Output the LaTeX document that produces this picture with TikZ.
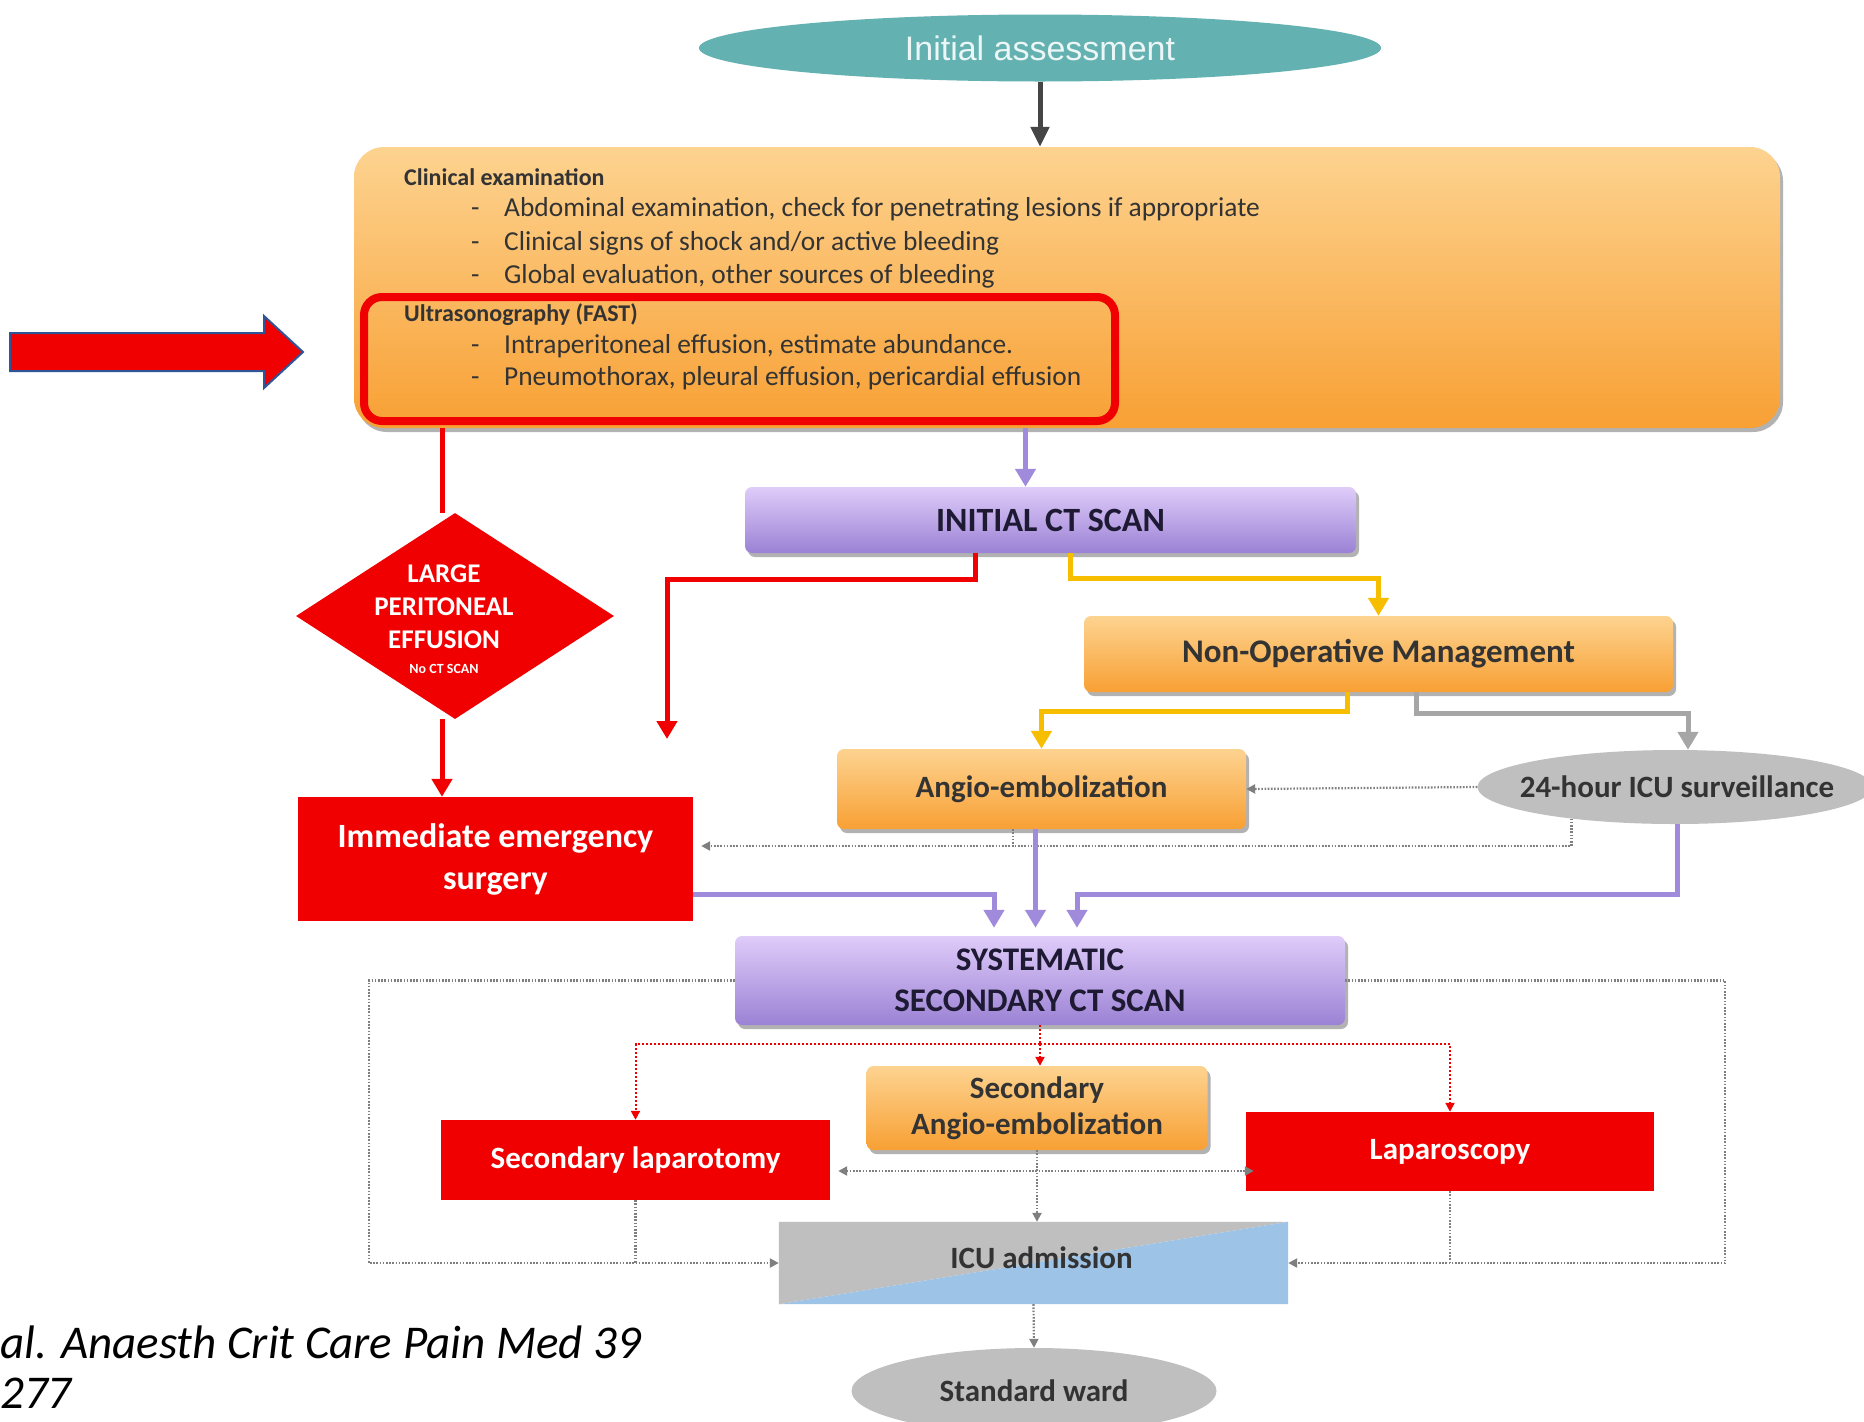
\documentclass[tikz,border=0pt]{standalone}
\usepackage{fontspec}
\setmainfont{Carlito}
\newfontfamily\arialf{Liberation Sans}
\usetikzlibrary{shapes.geometric,arrows.meta,shadows,calc,backgrounds}

\definecolor{tealA}{HTML}{63B2B1}
\definecolor{orTop}{HTML}{FDD390}
\definecolor{orBot}{HTML}{F8A034}
\definecolor{puTop}{HTML}{DFCCF9}
\definecolor{puBot}{HTML}{9B82D5}
\definecolor{redA}{HTML}{F00000}
\definecolor{puLine}{HTML}{A08ADC}
\definecolor{yeLine}{HTML}{F7BE00}
\definecolor{grLine}{HTML}{A6A6A6}
\definecolor{grFill}{HTML}{BFBFBF}
\definecolor{blFill}{HTML}{9DC3E6}
\definecolor{dotGray}{HTML}{7F7F7F}
\definecolor{txtDark}{HTML}{333333}
\definecolor{txtPur}{HTML}{1E1A33}
\definecolor{arrBlue}{HTML}{2F5597}
\definecolor{darkArr}{HTML}{454545}

\newcommand\fsz[2]{\fontsize{#1}{#2}\selectfont}

\tikzset{
  shade/.style={drop shadow={shadow xshift=3pt,shadow yshift=-4pt,opacity=.3,fill=black}},
  orbox/.style={rectangle,rounded corners=7pt,top color=orTop,bottom color=orBot,
    shade,inner sep=0pt,align=center,text=txtDark,font=\fsz{31}{36}\bfseries},
  pubox/.style={rectangle,rounded corners=7pt,top color=puTop,bottom color=puBot,
    shade,inner sep=0pt,align=center,text=txtPur,font=\fsz{33}{41}\bfseries},
  redbox/.style={rectangle,fill=redA,inner sep=0pt,align=center,text=white,
    font=\fsz{31}{36}\bfseries},
  grell/.style={ellipse,fill=grFill,inner sep=0pt},
  elltxt/.style={inner sep=0pt,text=txtDark,font=\fsz{31}{36}\bfseries},
  bodytxt/.style={anchor=mid west,inner sep=0pt,text=txtDark,font=\fsz{27.4}{32}},
  headtxt/.style={anchor=mid west,inner sep=0pt,text=txtDark,font=\fsz{24}{28}\bfseries},
  thick arrow/.style={line width=5pt,-{Triangle[width=20pt,length=18pt]}},
  redln/.style={draw=redA,line width=5pt},
  puln/.style={draw=puLine,line width=6pt},
  yeln/.style={draw=yeLine,line width=5pt},
  grln/.style={draw=grLine,line width=5pt},
  dotln/.style={draw=dotGray,line width=2.2pt,dash pattern=on 1.6pt off 1.6pt},
  reddot/.style={draw=redA,line width=2pt,dash pattern=on 2pt off 2pt},
  smalltip/.style={-{Triangle[width=9pt,length=9pt]}},
}

\begin{document}
\begin{tikzpicture}[x=1pt,y=-1pt]
\useasboundingbox (0,0) rectangle (1864,1422);
\fill[white] (0,0) rectangle (1864,1422);

% ---------- top: initial assessment and examination box ----------
\node[ellipse,fill=tealA,minimum width=682pt,minimum height=67pt,inner sep=0pt,
      text=white!88!tealA,font=\arialf\fsz{34}{40}] (init) at (1040,48) {Initial assessment};

\node[rectangle,rounded corners=30pt,top color=orTop,bottom color=orBot,shade,
      minimum width=1426pt,minimum height=281pt,inner sep=0pt] (exam) at (1067,287.5) {};

\node[headtxt] (ce) at (404,183) {Clinical examination};
\node[bodytxt] (ce1) at (471,214) {\makebox[33pt][l]{-}Abdominal examination, check for penetrating lesions if appropriate};
\node[bodytxt] (ce2) at (471,248) {\makebox[33pt][l]{-}Clinical signs of shock and/or active bleeding};
\node[bodytxt] (ce3) at (471,281) {\makebox[33pt][l]{-}Global evaluation, other sources of bleeding};
\node[headtxt] (us) at (404,319) {Ultrasonography (FAST)};
\node[bodytxt] (us1) at (471,351) {\makebox[33pt][l]{-}Intraperitoneal effusion, estimate abundance.};
\node[bodytxt] (us2) at (471,383) {\makebox[33pt][l]{-}Pneumothorax, pleural effusion, pericardial effusion};

% red frame around the FAST section
\node[rectangle,rounded corners=18pt,draw=redA,line width=8pt,
      minimum width=751pt,minimum height=124pt,inner sep=0pt] (fast) at (739.5,359) {};

% pointer arrow on the left
\draw[fill=redA,draw=arrBlue,line width=2pt]
  (10,333) -- (264,333) -- (264,316) -- (303,352) -- (264,388) -- (264,371) -- (10,371) -- cycle;

% ---------- left branch ----------
\node[diamond,fill=redA,minimum width=318pt,minimum height=206pt,inner sep=0pt] (large) at (455,616) {};
\node[text=white,align=center,inner sep=0pt,font=\fsz{27}{33}\bfseries] (largetxt) at (444,619)
      {LARGE\\PERITONEAL\\EFFUSION\\[-8pt]{\fsz{14}{16}No CT SCAN}};

\node[redbox,minimum width=395pt,minimum height=124pt,font=\fsz{34}{42}\bfseries]
      (surg) at (495.5,859) {Immediate emergency\\surgery};

% ---------- centre column ----------
\node[pubox,minimum width=611pt,minimum height=66pt,font=\fsz{34}{40}\bfseries]
      (ct) at (1050.5,520) {INITIAL CT SCAN};
\node[orbox,minimum width=589pt,minimum height=76pt,font=\fsz{33}{40}\bfseries]
      (nom) at (1378.5,654) {Non-Operative Management};
\node[orbox,minimum width=409pt,minimum height=80pt] (angio) at (1041.5,789) {Angio-embolization};
\node[grell,minimum width=395pt,minimum height=74pt] (icu24) at (1675,787) {};
\node[elltxt] (icu24t) at (1677,787) {24-hour ICU surveillance};

\node[pubox,minimum width=610pt,minimum height=89pt] (sct) at (1040,980.5) {SYSTEMATIC\\SECONDARY CT SCAN};

\node[orbox,minimum width=341pt,minimum height=84pt] (sangio) at (1037,1108) {Secondary\\Angio-embolization};
\node[redbox,minimum width=389pt,minimum height=80pt] (slap) at (635.5,1160) {Secondary laparotomy};
\node[redbox,minimum width=408pt,minimum height=79pt] (lapa) at (1450,1151.5) {Laparoscopy};

\node[rectangle,minimum width=509pt,minimum height=82pt,inner sep=0pt] (icu) at (1033.5,1263) {};
\fill[grFill] (icu.south west) -- (icu.north west) -- (icu.north east) -- cycle;
\fill[blFill] (icu.south west) -- (icu.north east) -- (icu.south east) -- cycle;
\node[elltxt] (icut) at ([xshift=8pt,yshift=5pt]icu.center) {ICU admission};

\node[grell,minimum width=365pt,minimum height=86pt] (ward) at (1034,1391) {};
\node[elltxt] (wardt) at (ward.center) {Standard ward};

% ---------- connectors ----------
\draw[thick arrow,draw=darkArr,-{Triangle[width=18pt,length=20pt]}] (init.south) -- (init.south |- exam.north);

\draw[redln] ([xshift=-13pt]exam.south -| large.north) -- ([xshift=-13pt]large.north);
\draw[redln,thick arrow] ([xshift=-13pt]large.south) -- ([xshift=-13pt]large.south |- surg.north);

\draw[puln,thick arrow] ([xshift=-25pt]ct.north |- exam.south) -- ([xshift=-25pt]ct.north);

\coordinate (redend) at (667,739);
\draw[redln,thick arrow] ([xshift=-75pt]ct.south) -- ++(0,26) -| (redend);
\draw[yeln,thick arrow] ([xshift=20pt]ct.south) -- ++(0,25) -| (nom.north);

\draw[yeln,thick arrow] ([xshift=-31pt]nom.south) -- ++(0,19) -| (angio.north);
\draw[grln,thick arrow] ([xshift=38pt]nom.south) -- ++(0,21) -| ([xshift=13pt]icu24.north);

\draw[dotln,smalltip] (icu24.west) -- (angio.east);
\draw[dotln,smalltip] (icu24.197) |- ([yshift=13pt,xshift=8pt]surg.east);
\draw[dotln] ([xshift=-28.5pt]angio.south) -- ++(0,18);

\coordinate (prow) at ([yshift=-35pt]surg.east);
\draw[puln,thick arrow,shorten >=8pt] (prow) -| ([xshift=-46pt]sct.north);
\draw[puln,thick arrow,shorten >=8pt] ([xshift=-6pt]angio.south) -- ([xshift=-6pt]angio.south |- sct.north);
\draw[puln,thick arrow,shorten >=8pt] ([xshift=2pt]icu24.south) -- ([xshift=2pt]icu24.south |- prow) -| ([xshift=37pt]sct.north);

% dotted loops around the lower part
\draw[dotln,smalltip] (sct.west) -- ++(-366,0) |- (icu.west);
\draw[dotln,smalltip] (sct.east) -- ++(380,0) |- (icu.east);

\draw[reddot] (sct.south) -- ++(0,19) coordinate (rsplit);
\draw[reddot,smalltip] (rsplit) -| (slap.north);
\draw[reddot,smalltip] (rsplit) -| (lapa.north);
\draw[reddot,smalltip] (rsplit) -- (rsplit |- sangio.north);

\draw[dotln,{Triangle[width=9pt,length=9pt]}-{Triangle[width=9pt,length=9pt]}]
  ([shift={(8pt,-11pt)}]slap.east) -- ([shift={(8pt,-11pt)}]slap.east -| lapa.west);
\draw[dotln,smalltip] (sangio.south) -- (sangio.south |- icu.north);
\draw[dotln] (slap.south) -- (slap.south |- icu.west);
\draw[dotln] (lapa.south) -- (lapa.south |- icu.east);
\draw[dotln,smalltip] (icu.south) -- (ward.north);

% ---------- reference line ----------
\node[anchor=mid west,inner sep=0pt,font=\fsz{47}{56}\itshape,text=black] (ref1) at (0,1356)
  {al. Anaesth Crit Care Pain Med 39};
\node[anchor=mid west,inner sep=0pt,font=\fsz{47}{56}\itshape,text=black] (ref2) at (0,1406) {277};
\end{tikzpicture}
\end{document}
